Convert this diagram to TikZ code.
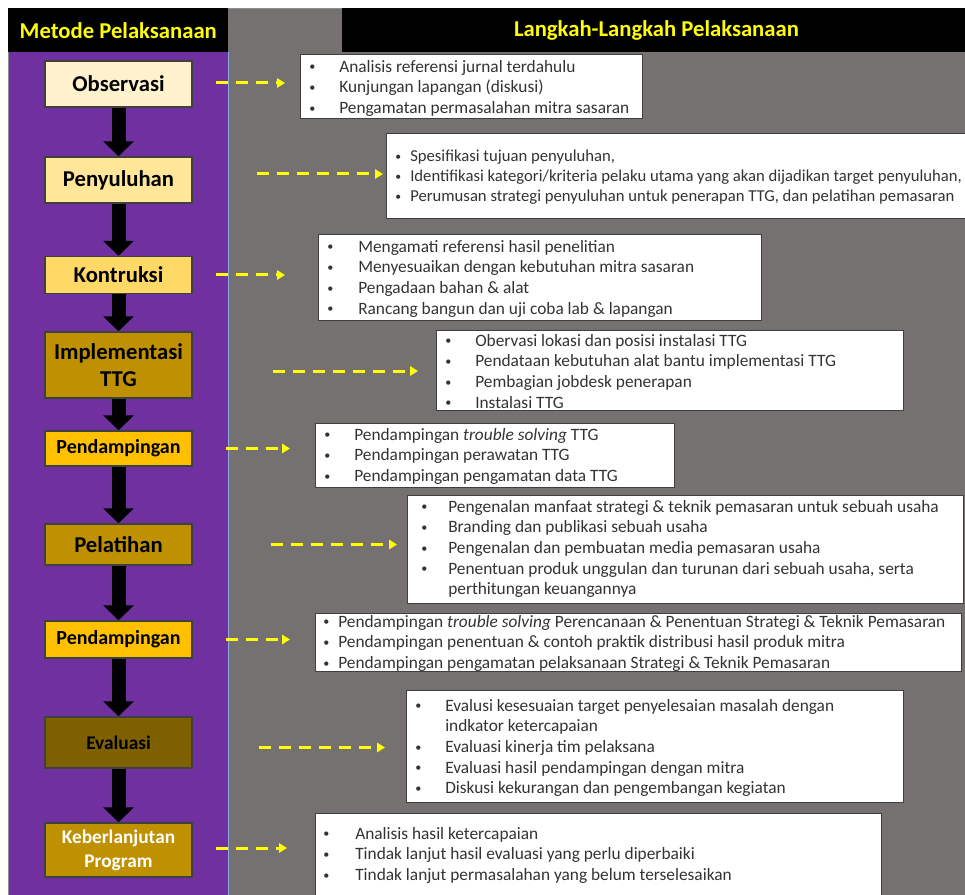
\documentclass[tikz,border=0pt]{standalone}
\usepackage{fontspec}
\setmainfont{Carlito}
\usetikzlibrary{arrows.meta,calc}

\definecolor{ungu}{RGB}{112,48,160}
\definecolor{abu}{RGB}{118,113,113}
\definecolor{kuning}{RGB}{255,255,0}
\definecolor{krem}{RGB}{255,242,204}
\definecolor{emasmuda}{RGB}{255,230,153}
\definecolor{emas}{RGB}{255,217,102}
\definecolor{jingga}{RGB}{255,192,0}
\definecolor{coklat}{RGB}{191,144,0}
\definecolor{coklattua}{RGB}{127,96,0}
\definecolor{garis}{RGB}{64,64,64}
\definecolor{biru}{RGB}{143,170,220}

\newcommand{\butir}[2][22.5pt]{\makebox[#1][l]{\raisebox{1.2pt}{\scalebox{0.7}{\textbullet}}}#2}
\newcommand{\sambung}[2][22.5pt]{\hspace*{#1}#2}

\begin{document}
\begin{tikzpicture}[x=0.75pt,y=0.75pt,yscale=-1,xscale=1,
  metode/.style={draw=garis, line width=1.1pt, minimum width=110.25pt, inner sep=0pt, align=center, font=\bfseries\fontsize{17}{20}\selectfont},
  langkah/.style={draw=garis, line width=1pt, fill=white, anchor=north west, inner sep=0pt},
  isi/.style={anchor=north west, inner sep=0pt, align=left, text=black!80, font=\fontsize{13}{15.5}\selectfont},
  judul/.style={fill=black, anchor=north west, minimum height=33pt, inner sep=0pt, text=kuning, font=\bfseries\fontsize{17}{20}\selectfont},
  blok/.style={line width=10.5pt, -{Triangle[width=22.5pt,length=11.25pt]}},
  panah/.style={kuning, line width=2.25pt, dash pattern=on 9pt off 6pt, -{Triangle[width=7pt,length=6pt]}}]
\useasboundingbox (0,0) rectangle (965,895);
\fill[white] (0,0) rectangle (965,895);

%Panels
\fill[abu] (228,8) rectangle (965,895);
\fill[ungu] (8,52) rectangle (228,895);
\draw[garis!60, line width=0.5pt] (8,895) -- (8,8) -- (965,8);
\draw[biru, line width=0.75pt] (228,52) -- (228,895);

% Header Nodes
\node[judul, minimum width=165pt] (hd1) at (8,8) {Metode Pelaksanaan};
\node[judul, minimum width=467.25pt] (hd2) at (342,8) {\hspace*{4pt}Langkah-Langkah Pelaksanaan};

% Metode Nodes
\node[metode, fill=krem, minimum height=34.5pt] (obs) at (118.5,84) {Observasi};
\node[metode, fill=emasmuda, minimum height=34.5pt] (peny) at (118.5,180) {Penyuluhan};
\node[metode, fill=emas, minimum height=27.75pt] (kon) at (118.5,275) {Kontruksi};
\node[metode, fill=coklat, minimum height=49.5pt, font=\bfseries\fontsize{17}{20.25}\selectfont] (impl) at (118.5,365) {Implementasi\\TTG};
\node[metode, fill=jingga, minimum height=26.25pt, font=\bfseries\fontsize{15}{18}\selectfont] (pend) at (118.5,448.5) {Pendampingan};
\node[metode, fill=coklat, minimum height=30.75pt] (pel) at (118.5,544.5) {Pelatihan};
\node[metode, fill=jingga, minimum height=27.75pt, font=\bfseries\fontsize{15}{18}\selectfont] (pendb) at (118.5,639.5) {Pendampingan};
\node[metode, fill=coklattua, minimum height=38.25pt, font=\bfseries\fontsize{14.5}{17}\selectfont] (eval) at (118.5,742.5) {Evaluasi};
\node[metode, fill=coklat, minimum height=40.5pt, text=white, font=\bfseries\fontsize{14.5}{18}\selectfont] (keb) at (118.5,850) {Keberlanjutan\\Program};

%Block Arrows
\draw[blok] (obs) -- (peny);
\draw[blok] (peny) -- (kon);
\draw[blok] (kon) -- (impl);
\draw[blok] (impl) -- (pend);
\draw[blok] (pend) -- (pel);
\draw[blok] (pel) -- (pendb);
\draw[blok] (pendb) -- (eval);
\draw[blok] (eval) -- (keb);

% Langkah Boxes
\node[langkah, minimum width=256.5pt, minimum height=48pt] (st1) at (300,54) {};
\node[langkah, minimum width=442.5pt, minimum height=63.75pt] (st2) at (386,133) {};
\node[langkah, minimum width=332.25pt, minimum height=64.5pt] (st3) at (318,234) {};
\node[langkah, minimum width=350.25pt, minimum height=60pt] (st4) at (436,330) {};
\node[langkah, minimum width=269.25pt, minimum height=48pt] (st5) at (315,423) {};
\node[langkah, minimum width=417pt, minimum height=81pt] (st6) at (407,495) {};
\node[langkah, minimum width=484.5pt, minimum height=43.5pt] (st7) at (315,613) {};
\node[langkah, minimum width=372.75pt, minimum height=84pt] (st8) at (406,690) {};
\node[langkah, minimum width=424.5pt, minimum height=75pt] (st9) at (315,813) {};

% Text Node
\node[isi] (t1) at (309,60) {\butir{Analisis referensi jurnal terdahulu}\\
  \butir{Kunjungan lapangan (diskusi)}\\
  \butir{Pengamatan permasalahan mitra sasaran}};
% Text Node
\node[isi, font=\fontsize{12.5}{15}\selectfont] (t2) at (395,150) {\butir[11.25pt]{Spesifikasi tujuan penyuluhan,}\\
  \butir[11.25pt]{Identifikasi kategori/kriteria pelaku utama yang akan dijadikan target penyuluhan,}\\
  \butir[11.25pt]{Perumusan strategi penyuluhan untuk penerapan TTG, dan pelatihan pemasaran}};
% Text Node
\node[isi] (t3) at (327,240) {\butir[23.25pt]{Mengamati referensi hasil penelitian}\\
  \butir[23.25pt]{Menyesuaikan dengan kebutuhan mitra sasaran}\\
  \butir[23.25pt]{Pengadaan bahan \& alat}\\
  \butir[23.25pt]{Rancang bangun dan uji coba lab \& lapangan}};
% Text Node
\node[isi] (t4) at (445,334) {\butir{Obervasi lokasi dan posisi instalasi TTG}\\
  \butir{Pendataan kebutuhan alat bantu implementasi TTG}\\
  \butir{Pembagian jobdesk penerapan}\\
  \butir{Instalasi TTG}};
% Text Node
\node[isi] (t5) at (324,428) {\butir{Pendampingan \textit{trouble solving} TTG}\\
  \butir{Pendampingan perawatan TTG}\\
  \butir{Pendampingan pengamatan data TTG}};
% Text Node
\node[isi] (t6) at (421,500) {\butir[20.25pt]{Pengenalan manfaat strategi \& teknik pemasaran untuk sebuah usaha}\\
  \butir[20.25pt]{Branding dan publikasi sebuah usaha}\\
  \butir[20.25pt]{Pengenalan dan pembuatan media pemasaran usaha}\\
  \butir[20.25pt]{Penentuan produk unggulan dan turunan dari sebuah usaha, serta}\\
  \sambung[20.25pt]{perthitungan keuangannya}};
% Text Node
\node[isi] (t7) at (323,615) {\butir[11.25pt]{Pendampingan \textit{trouble solving} Perencanaan \& Penentuan Strategi \& Teknik Pemasaran}\\
  \butir[11.25pt]{Pendampingan penentuan \& contoh praktik distribusi hasil produk mitra}\\
  \butir[11.25pt]{Pendampingan pengamatan pelaksanaan Strategi \& Teknik Pemasaran}};
% Text Node
\node[isi] (t8) at (415,699) {\butir{Evalusi kesesuaian target penyelesaian masalah dengan}\\
  \sambung{indkator ketercapaian}\\
  \butir{Evaluasi kinerja tim pelaksana}\\
  \butir{Evaluasi hasil pendampingan dengan mitra}\\
  \butir{Diskusi kekurangan dan pengembangan kegiatan}};
% Text Node
\node[isi] (t9) at (323,827) {\butir[24pt]{Analisis hasil ketercapaian}\\
  \butir[24pt]{Tindak lanjut hasil evaluasi yang perlu diperbaiki}\\
  \butir[24pt]{Tindak lanjut permasalahan yang belum terselesaikan}};

%Dashed Arrows
\coordinate (a1) at ($(obs.east)+(23,-1)$);
\draw[panah] (a1) -- ($(a1 -| st1.west)+(-15,0)$);
\coordinate (a2) at ($(peny.east)+(64,-6)$);
\draw[panah] (a2) -- ($(a2 -| st2.west)+(-3,0)$);
\coordinate (a3) at ($(kon.east)+(23,0)$);
\draw[panah] (a3) -- ($(a3 -| st3.west)+(-33,0)$);
\coordinate (a4) at ($(impl.east)+(80,6)$);
\draw[panah] (a4) -- ($(a4 -| st4.west)+(-18,0)$);
\coordinate (a5) at ($(pend.east)+(33,0)$);
\draw[panah] (a5) -- ($(a5 -| st5.west)+(-25,0)$);
\coordinate (a6) at ($(pel.east)+(78,0)$);
\draw[panah] (a6) -- ($(a6 -| st6.west)+(-10,0)$);
\coordinate (a7) at ($(pendb.east)+(33,0)$);
\draw[panah] (a7) -- ($(a7 -| st7.west)+(-25,0)$);
\coordinate (a8) at ($(eval.east)+(66,5)$);
\draw[panah] (a8) -- ($(a8 -| st8.west)+(-21,0)$);
\coordinate (a9) at ($(keb.east)+(23,-2)$);
\draw[panah] (a9) -- ($(a9 -| st9.west)+(-28,0)$);

\end{tikzpicture}
\end{document}
